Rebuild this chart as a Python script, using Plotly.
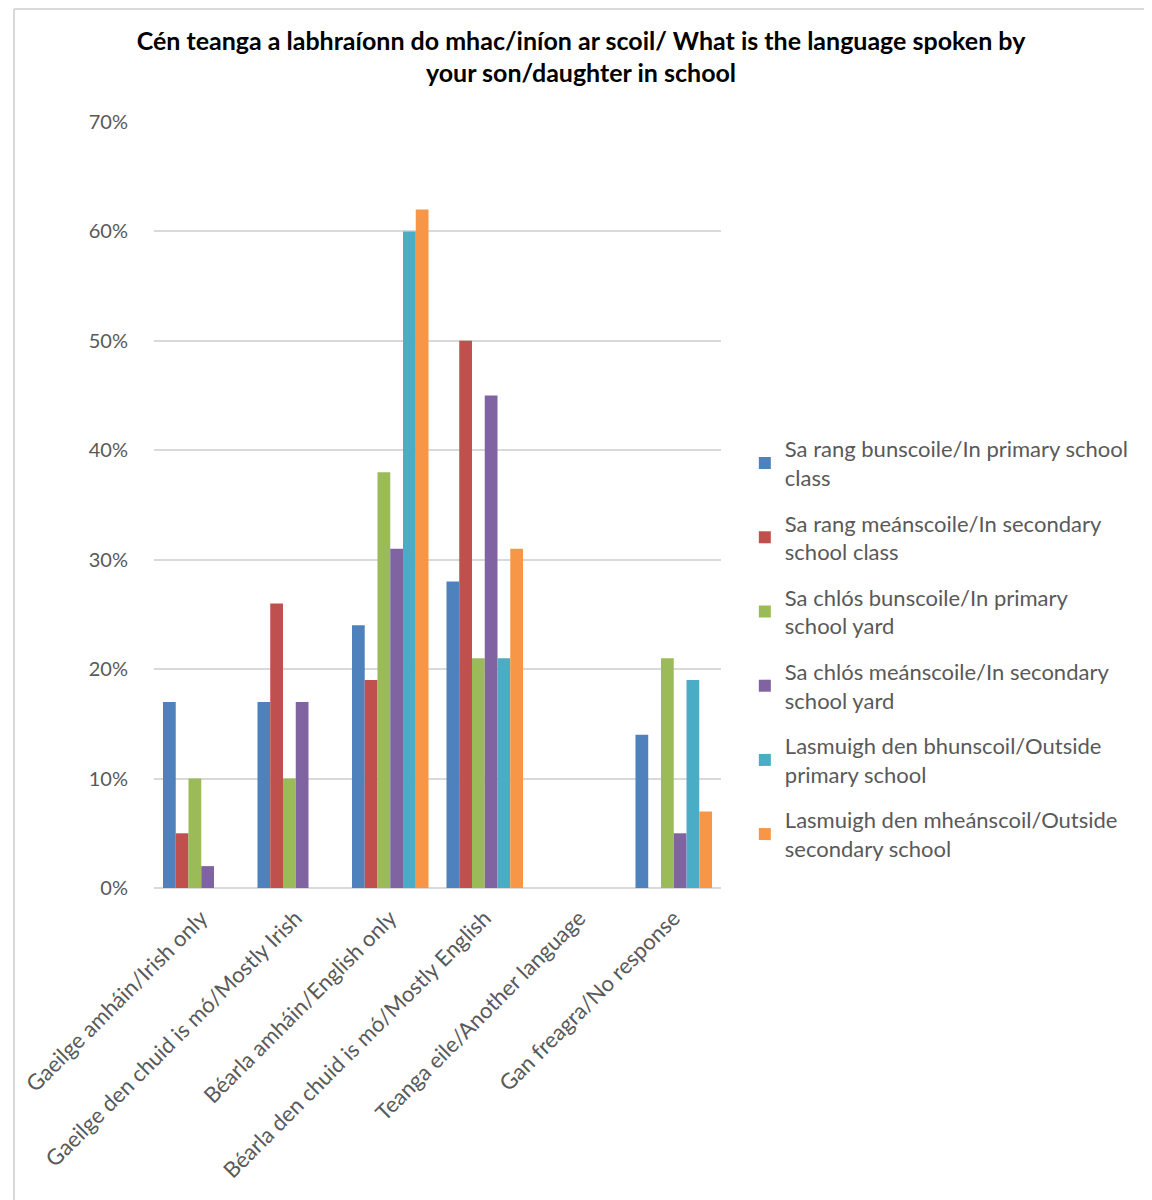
import plotly.graph_objects as go

categories = [
    "Gaeilge amháin/Irish only",
    "Gaeilge den chuid is mó/Mostly Irish",
    "Béarla amháin/English only",
    "Béarla den chuid is mó/Mostly English",
    "Teanga eile/Another language",
    "Gan freagra/No response",
]

series_names = [
    "Sa rang bunscoile/In primary school<br>class",
    "Sa rang meánscoile/In secondary<br>school class",
    "Sa chlós bunscoile/In primary<br>school yard",
    "Sa chlós meánscoile/In secondary<br>school yard",
    "Lasmuigh den bhunscoil/Outside<br>primary school",
    "Lasmuigh den mheánscoil/Outside<br>secondary school",
]

primary_class = [17, 17, 24, 28, 0, 14]
secondary_class = [5, 26, 19, 50, 0, 0]
primary_yard = [10, 10, 38, 21, 0, 21]
secondary_yard = [2, 17, 31, 45, 0, 5]
outside_primary = [0, 0, 60, 21, 0, 19]
outside_secondary = [0, 0, 62, 31, 0, 7]

series_values = [
    primary_class,
    secondary_class,
    primary_yard,
    secondary_yard,
    outside_primary,
    outside_secondary,
]

colors = ["#4F81BD", "#C0504D", "#9BBB59", "#8064A2", "#4BACC6", "#F79646"]

FONT = "Lato"
GREY = "#595959"

fig = go.Figure()
for i, (name, vals, col) in enumerate(zip(series_names, series_values, colors)):
    fig.add_trace(
        go.Bar(
            x=categories,
            y=vals,
            name=name,
            legendgroup=str(i),
            marker={"color": col, "line": {"width": 0}},
        )
    )

# page body adds an 8px offset, so figure coords = screen coords - 8
OFF = 8
L, R, T, B = 150 - OFF, 1152 - (721 - OFF), 122 - OFF, 1200 - (888 - OFF)
pw, ph = 1152 - L - R, 1200 - T - B


def px_x(sx):
    return (sx - OFF - L) / pw


def px_y(sy):
    return (1200 - B - (sy - OFF)) / ph


frame = {"color": "#D9D9D9", "width": 2}

fig.update_layout(
    width=1152,
    height=1200,
    margin={"l": L, "r": R, "t": T, "b": B},
    paper_bgcolor="white",
    plot_bgcolor="white",
    barmode="group",
    bargap=0.19,
    bargroupgap=0,
    font={"family": FONT, "color": GREY, "size": 20},
    title={
        "text": "<b>Cén teanga a labhraíonn do mhac/iníon ar scoil/ What is the language spoken by<br>your son/daughter in school</b>",
        "x": (581 - OFF) / 1152,
        "xanchor": "center",
        "y": 1 - (49.5 - OFF) / 1200,
        "yanchor": "middle",
        "font": {"family": FONT, "size": 25, "color": "#000000"},
    },
    legend={
        "x": px_x(745),
        "xanchor": "left",
        "y": px_y(428),
        "yanchor": "top",
        "font": {"family": FONT, "size": 22, "color": GREY},
        "tracegroupgap": 14,
        "itemwidth": 30,
        "bgcolor": "rgba(0,0,0,0)",
    },
    showlegend=True,
    shapes=[
        {
            "type": "line",
            "xref": "paper",
            "yref": "paper",
            "x0": px_x(OFF + 1),
            "x1": px_x(1200),
            "y0": px_y(OFF + 1),
            "y1": px_y(OFF + 1),
            "line": frame,
            "layer": "below",
        },
        {
            "type": "line",
            "xref": "paper",
            "yref": "paper",
            "x0": px_x(OFF + 1),
            "x1": px_x(OFF + 1),
            "y0": px_y(OFF + 1),
            "y1": px_y(1250),
            "line": frame,
            "layer": "below",
        },
    ],
)

fig.update_yaxes(
    range=[0, 70],
    dtick=10,
    ticksuffix="%",
    showgrid=True,
    gridcolor="#D9D9D9",
    gridwidth=2,
    zeroline=True,
    zerolinecolor="#D9D9D9",
    zerolinewidth=2,
    showline=False,
    ticks="",
    ticklabelstandoff=25,
    tickfont={"family": FONT, "size": 20, "color": GREY},
)

fig.update_xaxes(
    tickangle=-45,
    showgrid=False,
    showline=False,
    ticks="",
    ticklabelstandoff=12,
    tickfont={"family": FONT, "size": 22, "color": GREY},
)

fig.write_html("out.html")
